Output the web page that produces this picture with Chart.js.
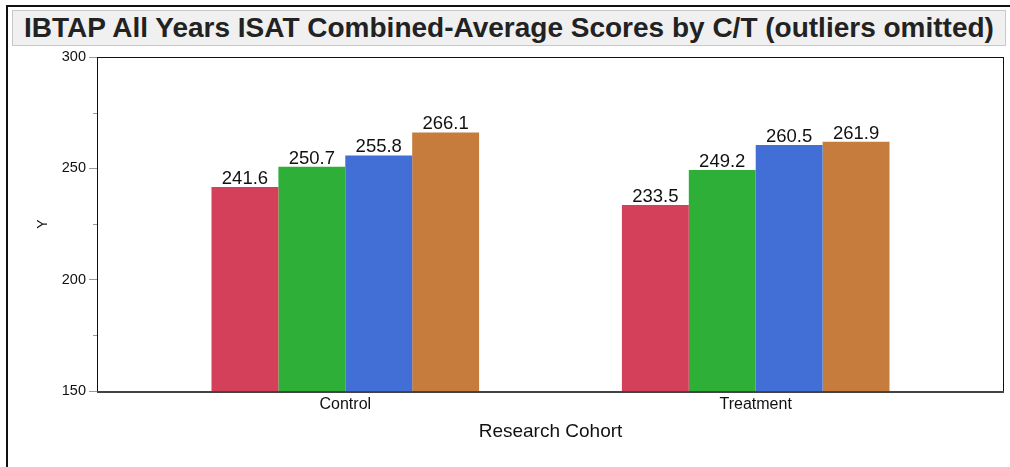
<!DOCTYPE html>
<html><head><meta charset="utf-8">
<script src="https://cdn.jsdelivr.net/npm/chart.js@4"></script>
<style>
html,body{margin:0;padding:0;background:#fff;}
#wrap{position:relative;width:1010px;height:467px;overflow:hidden;}
#frame{position:absolute;left:6px;top:5px;width:1020px;height:480px;border-left:2px solid #111;border-top:2px solid #111;}
#title{position:absolute;left:12px;top:10px;width:994px;height:36px;background:#f0f0f0;border:1px solid #c8c8c8;box-sizing:border-box;font:bold 28px "Liberation Sans",Arial,sans-serif;color:#222;line-height:34px;text-align:center;white-space:nowrap;}
canvas{position:absolute;left:0;top:0;}
</style></head>
<body>
<div id="wrap">
<canvas id="c" width="1010" height="467"></canvas>
<div id="frame"></div>
<div id="title">IBTAP All Years ISAT Combined-Average Scores by C/T (outliers omitted)</div>
</div>
<script>
const categories = ['Control', 'Treatment'];
const seriesRed = [241.6, 233.5];
const seriesGreen = [250.7, 249.2];
const seriesBlue = [255.8, 260.5];
const seriesOrange = [266.1, 261.9];
const majorTicks = [150, 200, 250, 300];
const minorTicks = [175, 225, 275];

const FONT = '"Liberation Sans", Arial, sans-serif';

function toPoints(arr) { return arr.map((v, i) => ({x: i, y: v})); }

const framePlugin = {
  id: 'frame',
  afterDatasetsDraw(chart) {
    const {ctx, chartArea: a} = chart;
    ctx.save();
    ctx.strokeStyle = '#111';
    ctx.lineWidth = 1;
    ctx.strokeRect(Math.round(a.left) + 0.5, Math.round(a.top) + 0.5, Math.round(a.right - a.left) - 1, Math.round(a.bottom - a.top));
    ctx.strokeStyle = '#444';
    ctx.lineWidth = 2;
    ctx.beginPath();
    ctx.moveTo(a.left, Math.round(a.bottom) + 1);
    ctx.lineTo(a.right, Math.round(a.bottom) + 1);
    ctx.stroke();
    const ys = chart.scales.y;
    ctx.strokeStyle = '#999';
    ctx.lineWidth = 1;
    minorTicks.forEach(v => {
      const y = Math.round(ys.getPixelForValue(v)) + 0.5;
      ctx.beginPath();
      ctx.moveTo(a.left - 4, y);
      ctx.lineTo(a.left, y);
      ctx.stroke();
    });
    ctx.fillStyle = '#111';
    ctx.font = '18.5px ' + FONT;
    ctx.textAlign = 'center';
    ctx.textBaseline = 'alphabetic';
    chart.data.datasets.forEach((ds, di) => {
      const meta = chart.getDatasetMeta(di);
      meta.data.forEach((el, i) => {
        ctx.fillText(ds.data[i].y.toFixed(1), el.x, el.y - 3);
      });
    });
    ctx.restore();
  }
};

new Chart(document.getElementById('c'), {
  type: 'bar',
  data: {
    datasets: [
      {label: 'A', data: toPoints(seriesRed), backgroundColor: '#D4405A'},
      {label: 'B', data: toPoints(seriesGreen), backgroundColor: '#2EB038'},
      {label: 'C', data: toPoints(seriesBlue), backgroundColor: '#416FD6'},
      {label: 'D', data: toPoints(seriesOrange), backgroundColor: '#C67C3C'}
    ]
  },
  options: {
    responsive: false,
    devicePixelRatio: 1,
    animation: false,
    barPercentage: 1,
    categoryPercentage: 0.652,
    layout: {padding: {top: 57, right: 6, left: 35, bottom: 24}},
    plugins: {legend: {display: false}, tooltip: {enabled: false}, title: {display: false}},
    scales: {
      x: {
        type: 'linear',
        offset: false,
        min: -0.605,
        max: 1.605,
        afterBuildTicks: (s) => { s.ticks = categories.map((c, i) => ({value: i})); },
        afterFit: (s) => { s.height = 52; },
        ticks: {
          callback: (v) => categories[v],
          font: {family: FONT, size: 16},
          color: '#111',
          padding: 4,
          autoSkip: false,
          maxRotation: 0
        },
        grid: {display: true, drawOnChartArea: false, drawTicks: false},
        border: {display: false},
        title: {display: true, text: 'Research Cohort', font: {family: FONT, size: 19}, color: '#111', padding: {top: 4, bottom: 0}}
      },
      y: {
        min: 150,
        max: 300,
        afterBuildTicks: (s) => { s.ticks = majorTicks.map(v => ({value: v})); },
        afterFit: (s) => { s.width = 62; },
        ticks: {font: {family: FONT, size: 14.5}, color: '#111', padding: 3},
        grid: {drawOnChartArea: false, tickLength: 8, tickColor: '#999'},
        border: {display: false},
        title: {display: true, text: 'Y', font: {family: FONT, size: 14}, color: '#111', padding: {top: 0, bottom: 0}}
      }
    }
  },
  plugins: [framePlugin]
});
</script>
</body></html>
